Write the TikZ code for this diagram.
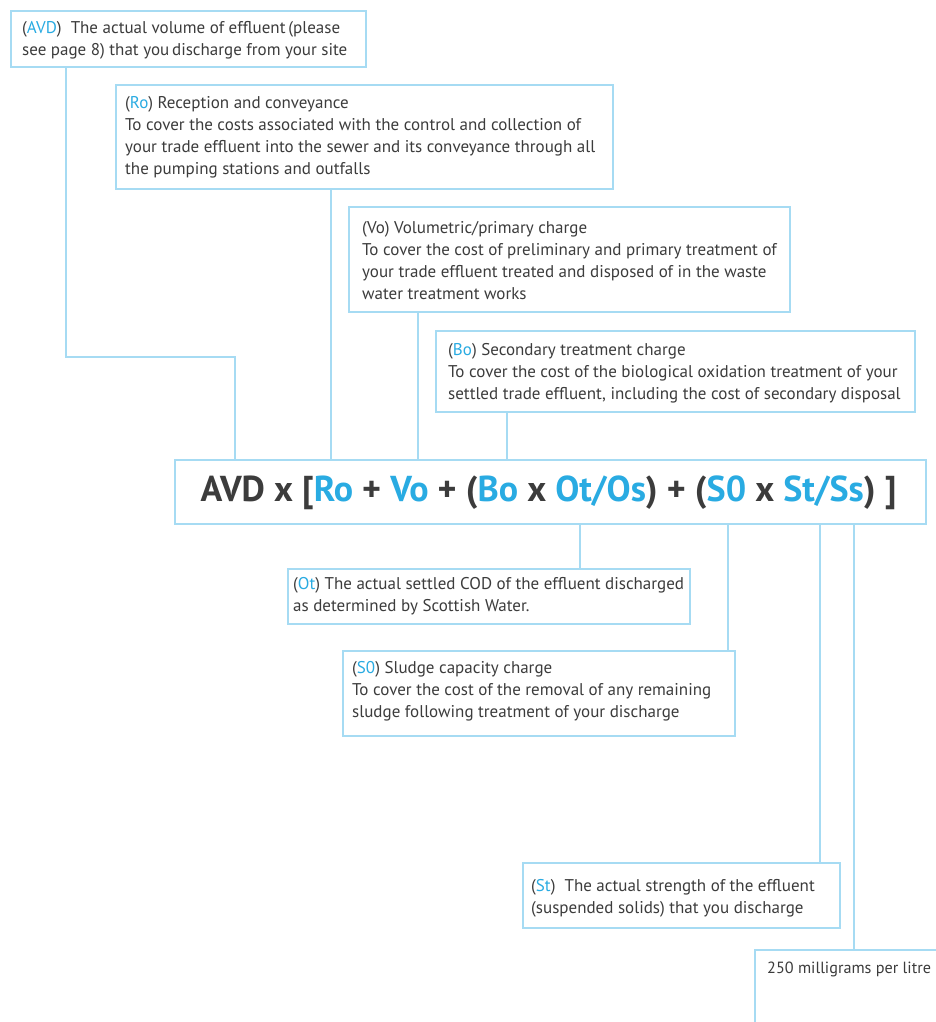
\documentclass[tikz,border=0pt]{standalone}
\usepackage{fontspec}
\setmainfont{PT Sans}
\definecolor{bline}{RGB}{166,219,243}
\definecolor{tblue}{RGB}{41,171,226}
\definecolor{tgray}{RGB}{60,60,60}
\newcommand{\hl}[1]{\textcolor{tblue}{#1}}
\begin{document}
\begin{tikzpicture}[x=1pt,y=-1pt,
  box/.style={draw=bline, line width=2.2pt, fill=white, inner sep=0pt, anchor=north west},
  txt/.style={align=left, inner sep=0pt, text=tgray, font=\fontsize{17}{22}\selectfont, anchor=west},
  conn/.style={draw=bline, line width=2pt}]
\useasboundingbox (0,0) rectangle (936,1022);
\begin{scope}
\clip (0,0) rectangle (936,1022);
% boxes
\node[box, minimum width=355pt, minimum height=56pt] (avd) at (10,10) {};
\node[box, minimum width=497pt, minimum height=104pt] (ro) at (115,84) {};
\node[box, minimum width=441pt, minimum height=105pt] (vo) at (348,206) {};
\node[box, minimum width=479pt, minimum height=81pt] (bo) at (435,330) {};
\node[box, minimum width=751pt, minimum height=64pt] (f) at (174,459) {};
\node[box, minimum width=402pt, minimum height=55pt] (ot) at (287,568) {};
\node[box, minimum width=392pt, minimum height=85pt] (s0) at (342,650) {};
\node[box, minimum width=317pt, minimum height=65pt] (st) at (522,862) {};
\node[box, minimum width=200pt, minimum height=100pt] (lit) at (754,949) {};
% texts
\node[txt] (avdt) at ([xshift=12pt,yshift=-1pt]avd.west) {(\hl{AVD})\ \ The actual volume of effluent\,(please\\see page 8) that you\,discharge from your site};
\node[txt] (rot) at ([xshift=10pt]ro.west) {(\hl{Ro}) Reception and conveyance\\To cover the costs associated with the control and collection of\\your trade effluent into the sewer and its conveyance through all\\the pumping stations and outfalls};
\node[txt] (vot) at ([xshift=14pt,yshift=-1pt]vo.west) {(Vo) Volumetric/primary charge\\To cover the cost of preliminary and primary treatment of\\your trade effluent treated and disposed of in the waste\\water treatment works};
\node[txt] (bot) at ([xshift=13pt,yshift=-2pt]bo.west) {(\hl{Bo}) Secondary treatment charge\\To cover the cost of the biological oxidation treatment of your\\settled trade effluent, including the cost of secondary disposal};
\node[inner sep=0pt, text=tgray, font=\fontsize{36}{40}\selectfont\bfseries] (ft) at ([xshift=-2pt,yshift=-1pt]f.center) {AVD x [\hl{Ro} + \hl{Vo} + (\hl{Bo} x \hl{Ot/Os}) + (\hl{S0} x \hl{St/Ss}) ]};
\node[txt] (ott) at ([xshift=6pt]ot.west) {(\hl{Ot}) The actual settled COD of the effluent discharged\\as determined by Scottish Water.};
\node[txt] (s0t) at ([xshift=10pt,yshift=2pt]s0.west) {(\hl{S0}) Sludge capacity charge\\To cover the cost of the removal of any remaining\\sludge following treatment of your discharge};
\node[txt] (stt) at ([xshift=9pt,yshift=-3pt]st.west) {(\hl{St})\ \ The actual strength of the effluent\\(suspended solids) that you discharge};
\node[txt, font=\fontsize{16.2}{22}\selectfont] (litt) at ([xshift=13pt,yshift=-20pt]lit.north west) {250 milligrams per litre};
% connectors
\coordinate (bend) at (235,357);
\draw[conn] ([xshift=56pt]avd.south west) |- (bend) -- (bend |- f.north);
\draw[conn] ([xshift=216pt]ro.south west) coordinate (r1) -- (r1 |- f.north);
\draw[conn] ([xshift=70pt]vo.south west) coordinate (v1) -- (v1 |- f.north);
\draw[conn] ([xshift=72pt]bo.south west) coordinate (b1) -- (b1 |- f.north);
\draw[conn] ([xshift=293pt]ot.north west) coordinate (o1) -- (o1 |- f.south);
\draw[conn] ([xshift=386pt]s0.north west) coordinate (s1) -- (s1 |- f.south);
\draw[conn] ([xshift=298pt]st.north west) coordinate (t1) -- (t1 |- f.south);
\draw[conn] ([xshift=100pt]lit.north west) coordinate (l1) -- (l1 |- f.south);
\end{scope}
\end{tikzpicture}
\end{document}
